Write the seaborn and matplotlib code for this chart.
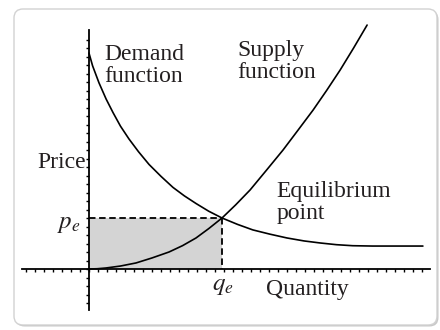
import numpy as np
import pandas as pd
import seaborn as sns
import matplotlib.pyplot as plt
from matplotlib.patches import FancyBboxPatch
from matplotlib.transforms import IdentityTransform

# =========================
# DATA (in tick units)
# =========================

demand_q = [0.0, 0.4, 1.11, 1.9, 2.67, 3.5, 4.44, 5.5, 6.67, 8.0, 9.33, 10.6, 11.9,
            13.3, 14.78, 16.5, 18.2, 20.1, 22.0, 23.9, 25.7, 27.5, 29.3, 31.5, 34.0, 37.1]
demand_p = [25.4, 23.9, 21.9, 20.0, 18.4, 16.8, 15.3, 13.8, 12.3, 10.9, 9.6, 8.6, 7.7,
            6.8, 6.0, 5.25, 4.6, 4.1, 3.65, 3.3, 3.06, 2.86, 2.74, 2.7, 2.7, 2.7]

supply_q = [0.0, 0.9, 1.89, 3.5, 5.22, 7.0, 8.89, 10.4, 11.89, 13.3, 14.78, 16.3, 17.9,
            19.7, 21.56, 23.2, 24.9, 26.4, 27.9, 29.4, 30.9]
supply_p = [0.0, 0.03, 0.12, 0.35, 0.71, 1.3, 2.0, 2.75, 3.65, 4.75, 6.0, 7.55, 9.3,
            11.6, 14.0, 16.3, 18.7, 21.0, 23.4, 26.0, 28.7]

q_e = 14.8
p_e = 6.0

labels = {
    "demand": "Demand\nfunction",
    "supply": "Supply\nfunction",
    "eq": "Equilibrium\npoint",
    "price": "Price",
    "quantity": "Quantity",
}

# =========================
# STYLE
# =========================

sns.set_style("white")
plt.rcParams["font.family"] = ["Liberation Serif", "DejaVu Serif"]
plt.rcParams["mathtext.fontset"] = "stix"

fig = plt.figure(figsize=(4.4, 3.3), dpi=100)
ax = fig.add_axes([0, 0, 1, 1])
ax.set_facecolor("none")

# pixel layout: origin at (89, 269), 9 px per x tick, 8.5 px per y tick
ax.set_xlim(-89 / 9, (440 - 89) / 9)
ax.set_ylim((269 - 330) / 8.5, 269 / 8.5)

# rounded frame with soft shadow
shadow = FancyBboxPatch((15.5, 3.5), 423, 316, boxstyle="round,pad=0,rounding_size=9",
                        transform=IdentityTransform(), facecolor="#c8c8c8",
                        edgecolor="none", zorder=0, clip_on=False)
frame = FancyBboxPatch((14, 5), 423, 316, boxstyle="round,pad=0,rounding_size=9",
                       transform=IdentityTransform(), facecolor="white",
                       edgecolor="#d2d2d2", lw=1.0, zorder=0.1, clip_on=False)
ax.add_patch(shadow)
ax.add_patch(frame)

# =========================
# AXES THROUGH THE ORIGIN
# =========================

for side in ["top", "right"]:
    ax.spines[side].set_visible(False)
ax.spines["left"].set_position(("data", 0))
ax.spines["bottom"].set_position(("data", 0))
ax.spines["left"].set_bounds(-4.8, 28.1)
ax.spines["bottom"].set_bounds(-7.4, 37.9)
for side in ["left", "bottom"]:
    ax.spines[side].set_linewidth(1.3)
    ax.spines[side].set_color("black")
    ax.spines[side].set_zorder(3)

ax.set_xticks(np.arange(-7, 38, 1))
ax.set_yticks(np.arange(-4, 28, 1))
ax.tick_params(bottom=True, left=True, direction="out", length=2.4, width=1.0,
               color="black", labelbottom=False, labelleft=False)

# =========================
# SHADED AREA, DASHES, CURVES
# =========================

ax.fill_between([0, q_e], 0, p_e, color="#d4d4d4", lw=0, zorder=1)
ax.plot([0, q_e], [p_e, p_e], color="black", lw=1.3, ls=(0, (3.6, 2.0)), zorder=2)
ax.plot([q_e, q_e], [p_e, 0], color="black", lw=1.3, ls=(0, (3.6, 2.0)), zorder=2)

demand = pd.DataFrame({"q": demand_q, "p": demand_p})
supply = pd.DataFrame({"q": supply_q, "p": supply_p})
sns.lineplot(data=demand, x="q", y="p", ax=ax, color="black", lw=1.2,
             sort=False, estimator=None, zorder=4)
sns.lineplot(data=supply, x="q", y="p", ax=ax, color="black", lw=1.2,
             sort=False, estimator=None, zorder=4)
ax.set_xlabel("")
ax.set_ylabel("")

# =========================
# TEXT
# =========================

fs = 17
tc = "#231f20"
ax.text(1.7, 26.5, labels["demand"], fontsize=fs, va="top", ha="left",
        linespacing=1.05, color=tc)
ax.text(16.5, 26.9, labels["supply"], fontsize=fs, va="top", ha="left",
        linespacing=1.05, color=tc)
ax.text(20.8, 10.3, labels["eq"], fontsize=fs, va="top", ha="left",
        linespacing=1.05, color=tc)
ax.text(-0.3, 11.9, labels["price"], fontsize=fs, va="baseline", ha="right",
        color=tc)
ax.text(19.7, -3.06, labels["quantity"], fontsize=fs, va="baseline", ha="left",
        color=tc)
ax.text(-0.9, 4.8, r"$p_e$", fontsize=fs + 1, va="baseline", ha="right",
        color=tc)
ax.text(14.9, -2.5, r"$q_e$", fontsize=fs + 1, va="baseline", ha="center",
        color=tc)

fig.savefig("out.png", dpi=100, facecolor="white")
